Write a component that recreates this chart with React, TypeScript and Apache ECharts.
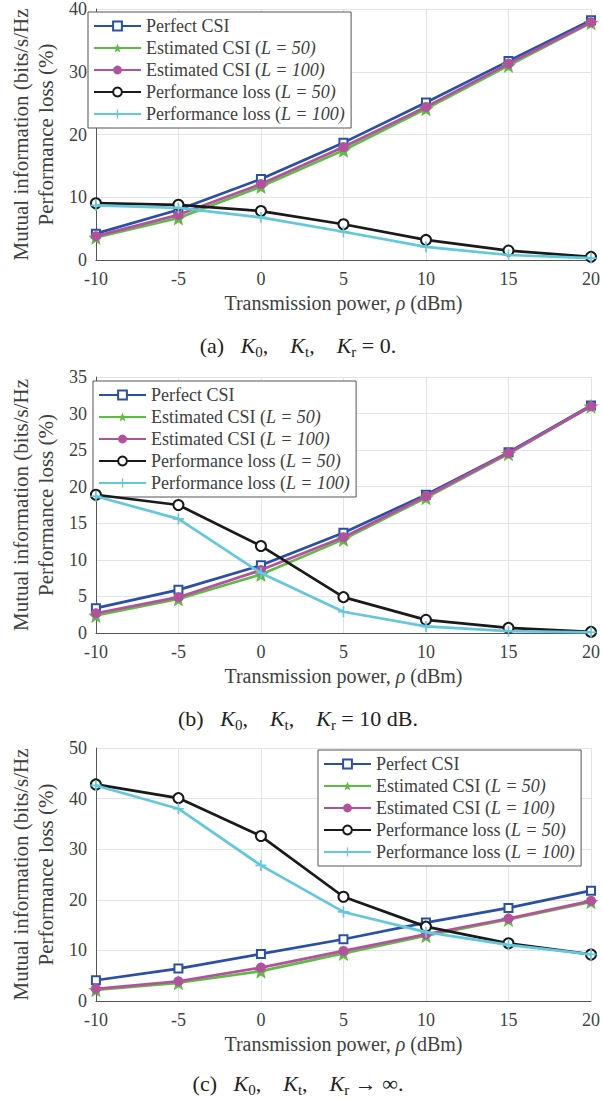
import React, { useEffect, useRef } from "react";
import * as echarts from "echarts";

const FONT = "Liberation Serif";
const TEXT = "#404040";

// x values (transmission power, dBm)
const xValues = [-10, -5, 0, 5, 10, 15, 20];

const seriesNames = [
  "Perfect CSI",
  "Estimated CSI (L = 50)",
  "Estimated CSI (L = 100)",
  "Performance loss (L = 50)",
  "Performance loss (L = 100)",
];

// (a) K0, Kt, Kr = 0
const aPerfect = [4.2, 8.0, 12.9, 18.7, 25.1, 31.7, 38.2];
const aEst50 = [3.6, 6.7, 11.7, 17.5, 24.1, 31.0, 37.8];
const aEst100 = [3.8, 7.2, 12.1, 18.0, 24.4, 31.3, 37.9];
const aLoss50 = [9.05, 8.8, 7.8, 5.7, 3.2, 1.5, 0.5];
const aLoss100 = [8.7, 8.3, 6.8, 4.5, 2.1, 0.8, 0.3];

// (b) K0, Kt, Kr = 10 dB
const bPerfect = [3.4, 5.9, 9.25, 13.7, 18.9, 24.7, 31.1];
const bEst50 = [2.4, 4.65, 8.0, 12.8, 18.5, 24.5, 31.0];
const bEst100 = [2.7, 4.9, 8.6, 13.1, 18.7, 24.6, 31.0];
const bLoss50 = [18.9, 17.5, 11.9, 4.9, 1.8, 0.7, 0.15];
const bLoss100 = [18.7, 15.6, 8.2, 2.9, 0.9, 0.25, 0.1];

// (c) K0, Kt, Kr -> infinity
const cPerfect = [4.1, 6.4, 9.3, 12.2, 15.5, 18.4, 21.8];
const cEst50 = [2.2, 3.6, 5.9, 9.4, 12.9, 16.1, 19.6];
const cEst100 = [2.4, 3.9, 6.6, 9.9, 13.2, 16.3, 19.8];
const cLoss50 = [42.8, 40.1, 32.6, 20.6, 14.7, 11.4, 9.2];
const cLoss100 = [42.6, 38.0, 26.8, 17.6, 13.6, 11.1, 9.2];

// y axis ranges per panel
const yMax = [40, 35, 50];
const yInterval = [10, 5, 10];

const panels = [
  [aPerfect, aEst50, aEst100, aLoss50, aLoss100],
  [bPerfect, bEst50, bEst100, bLoss50, bLoss100],
  [cPerfect, cEst50, cEst100, cLoss50, cLoss100],
];

const captions = [
  "(a)   {k|K}{s|0}{n|,    }{k|K}{s|t}{n|,    }{k|K}{s|r}{n| = 0.}",
  "(b)   {k|K}{s|0}{n|,    }{k|K}{s|t}{n|,    }{k|K}{s|r}{n| = 10 dB.}",
  "(c)   {k|K}{s|0}{n|,    }{k|K}{s|t}{n|,    }{k|K}{s|r}{n| \u2192 \u221E.}",
];

const STAR =
  "path://M0,-10 L2.6,-3.6 L9.51,-3.09 L4.2,1.4 L5.88,8.09 L0,4.4 L-5.88,8.09 L-4.2,1.4 L-9.51,-3.09 L-2.6,-3.6 Z";
const PLUS =
  "path://M-1.5,-10 L1.5,-10 L1.5,-1.5 L10,-1.5 L10,1.5 L1.5,1.5 L1.5,10 L-1.5,10 L-1.5,1.5 L-10,1.5 L-10,-1.5 L-1.5,-1.5 Z";

const seriesStyles = [
  { color: "#2A4FA8", symbol: "emptyRect", symbolSize: 8, empty: true },
  { color: "#5DBB46", symbol: STAR, symbolSize: 15, empty: false },
  { color: "#B5509F", symbol: "circle", symbolSize: 10, empty: false },
  { color: "#1a1a1a", symbol: "emptyCircle", symbolSize: 10, empty: true },
  { color: "#62C8DC", symbol: PLUS, symbolSize: 11, empty: false },
];

const grids = [
  { left: 82, top: 7, width: 512, height: 253 },
  { left: 81, top: 377, width: 514, height: 256 },
  { left: 82, top: 748, width: 512, height: 253 },
];

const legendPos = [
  { left: 88, top: 12 },
  { left: 93, top: 381 },
  { left: 318, top: 750 },
];

const captionY = [345, 718, 1083];

function buildOption() {
  const xAxis = grids.map((_, i) => ({
    type: "value",
    gridIndex: i,
    min: -10,
    max: 20,
    interval: 5,
    name: "Transmission power, {i|\u03C1} (dBm)",
    nameLocation: "middle",
    nameGap: 33,
    nameTextStyle: {
      fontFamily: FONT,
      fontSize: 20,
      color: TEXT,
      rich: { i: { fontFamily: FONT, fontSize: 20, fontStyle: "italic", color: TEXT } },
    },
    axisLine: { show: true, onZero: false, lineStyle: { color: "#555", width: 1 } },
    axisTick: { show: false },
    axisLabel: { fontFamily: FONT, fontSize: 18, color: TEXT, margin: 10 },
    splitLine: { show: true, lineStyle: { color: "#e4e4e4", width: 1 } },
  }));
  const yAxis = grids.map((g, i) => ({
    type: "value",
    gridIndex: i,
    min: 0,
    max: yMax[i],
    interval: yInterval[i],
    name: "Mutual information (bits/s/Hz)\nPerformance loss (%)",
    nameLocation: "middle",
    nameGap: 29,
    nameTruncate: { maxWidth: g.height, ellipsis: "" },
    nameTextStyle: { fontFamily: FONT, fontSize: 21, lineHeight: 25, color: TEXT },
    axisLine: { show: true, onZero: false, lineStyle: { color: "#555", width: 1 } },
    axisTick: { show: false },
    axisLabel: { fontFamily: FONT, fontSize: 18, color: TEXT, margin: 9 },
    splitLine: { show: true, lineStyle: { color: "#e4e4e4", width: 1 } },
  }));

  const series: any[] = [];
  panels.forEach((panel, p) => {
    panel.forEach((vals, s) => {
      const st = seriesStyles[s];
      series.push({
        type: "line",
        name: seriesNames[s],
        xAxisIndex: p,
        yAxisIndex: p,
        data: xValues.map((x, k) => [x, vals[k]]),
        symbol: st.symbol,
        symbolSize: st.symbolSize,
        showAllSymbol: true,
        z: 2 + s,
        lineStyle: { color: st.color, width: 2.7 },
        itemStyle: st.empty
          ? { color: st.color, borderColor: st.color, borderWidth: 2.5 }
          : { color: st.color, borderWidth: 0 },
        emphasis: { disabled: true },
      });
    });
  });

  const legend = legendPos.map((pos) => ({
    show: true,
    orient: "vertical",
    left: pos.left,
    top: pos.top,
    data: seriesNames,
    itemWidth: 47,
    itemHeight: 11,
    itemGap: 2,
    padding: [4, 6, 4, 5],
    backgroundColor: "#ffffff",
    borderColor: "#555",
    borderWidth: 1,
    borderRadius: 0,
    selectedMode: false,
    formatter: (name: string) => name.replace(/\((L = \d+\))/, "({i|$1}"),
    textStyle: {
      fontFamily: FONT,
      fontSize: 18,
      lineHeight: 20,
      color: TEXT,
      rich: {
        i: { fontFamily: FONT, fontSize: 18, lineHeight: 20, fontStyle: "italic", color: TEXT },
      },
    },
  }));

  const graphic = captions.map((c, i) => ({
    type: "text",
    x: 298,
    y: captionY[i],
    style: {
      text: c,
      align: "center",
      verticalAlign: "middle",
      fontFamily: FONT,
      fontSize: 22,
      lineHeight: 28,
      fill: "#222",
      rich: {
        k: { fontFamily: FONT, fontSize: 22, fontStyle: "italic", lineHeight: 28, color: "#222" },
        s: { fontFamily: FONT, fontSize: 15, lineHeight: 14, verticalAlign: "bottom", color: "#222" },
        n: { fontFamily: FONT, fontSize: 22, lineHeight: 28, color: "#222" },
      },
    },
  }));

  return {
    animation: false,
    backgroundColor: "#ffffff",
    textStyle: { fontFamily: FONT },
    grid: grids,
    xAxis,
    yAxis,
    legend,
    series,
    graphic,
  };
}

export default function App() {
  const ref = useRef<HTMLDivElement>(null);
  useEffect(() => {
    const chart = echarts.init(ref.current!, null, { renderer: "svg" });
    chart.setOption(buildOption() as any);
    return () => chart.dispose();
  }, []);
  return (
    <div
      ref={ref}
      style={{ position: "absolute", left: 0, top: 0, width: 603, height: 1100 }}
    />
  );
}
